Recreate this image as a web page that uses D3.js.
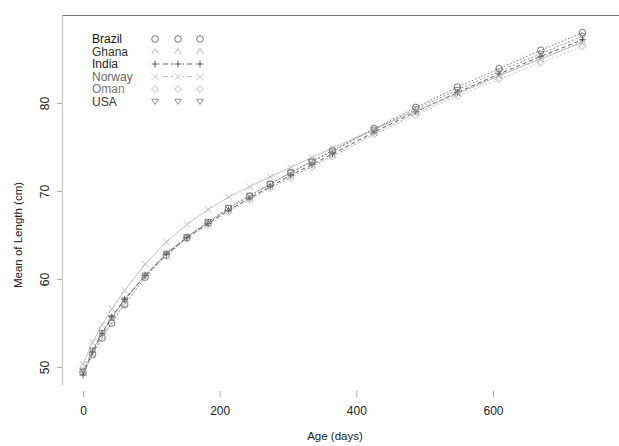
<!DOCTYPE html>
<html>
<head>
<meta charset="utf-8">
<script src="https://cdn.jsdelivr.net/npm/d3@7"></script>
<style>
  body { margin: 0; background: #fff; }
  svg text { font-family: "Liberation Sans", Arial, sans-serif; }
</style>
</head>
<body>
<svg id="chart" width="619" height="446"></svg>
<script>
// ages in days (birth, 2/4/6 weeks, then months 2..12, 14..24)
const ages = [0, 14, 28, 42, 61, 91, 122, 152, 183, 213, 244, 274, 304, 335, 365, 426, 487, 548, 609, 670, 731];

const countries = ["Brazil", "Ghana", "India", "Norway", "Oman", "USA"];

const brazil = [49.4, 51.4, 53.3, 55.0, 57.1, 60.2, 62.7, 64.7, 66.4, 68.0, 69.4, 70.8, 72.1, 73.4, 74.6, 77.1, 79.5, 81.8, 83.9, 86.0, 88.0];
const ghana  = [49.3, 51.8, 53.8, 55.6, 57.6, 60.5, 62.9, 64.8, 66.4, 67.8, 69.1, 70.4, 71.6, 72.8, 74.0, 76.5, 78.8, 81.0, 83.1, 85.1, 87.0];
const india  = [49.1, 51.7, 53.8, 55.7, 57.7, 60.4, 62.8, 64.7, 66.3, 67.8, 69.2, 70.5, 71.8, 73.0, 74.2, 76.7, 79.0, 81.2, 83.3, 85.3, 87.2];
const norway = [50.3, 52.8, 54.8, 56.6, 58.7, 61.7, 64.2, 66.2, 67.9, 69.3, 70.5, 71.6, 72.7, 73.8, 74.9, 77.0, 79.1, 81.1, 83.1, 85.0, 86.9];
const oman   = [49.3, 51.5, 53.4, 55.2, 57.2, 60.2, 62.6, 64.5, 66.1, 67.6, 69.0, 70.3, 71.5, 72.7, 73.9, 76.4, 78.6, 80.8, 82.7, 84.6, 86.4];
const usa    = [49.6, 51.9, 53.9, 55.6, 57.6, 60.4, 62.9, 64.8, 66.5, 68.1, 69.5, 70.8, 72.1, 73.3, 74.5, 77.0, 79.3, 81.5, 83.6, 85.6, 87.6];

const xTicks = [0, 200, 400, 600];
const yTicks = [50, 60, 70, 80];

const seriesValues = [brazil, ghana, india, norway, oman, usa];

// look of each country; legLine = whether the connecting line shows in the legend
const styles = [
  { sym: "circle",  color: "#555", text: "#111", dash: "1.5,2", legLine: false },
  { sym: "up",      color: "#aaa", text: "#333", dash: "2,2",   legLine: false },
  { sym: "plus",    color: "#333", text: "#222", dash: "4,3",   legLine: true },
  { sym: "cross",   color: "#b4b4b4", text: "#666", dash: null, legLine: true },
  { sym: "diamond", color: "#aaa", text: "#777", dash: "1.5,2.5", legLine: false },
  { sym: "down",    color: "#777", text: "#333", dash: "2,2",   legLine: false }
];

const svg = d3.select("#chart");

const x = d3.scaleLinear().domain([0, 600]).range([83, 493]);
const y = d3.scaleLinear().domain([50, 80]).range([367, 103]);

// frame: only top and left edges show
svg.append("line")
  .attr("x1", 62).attr("x2", 619).attr("y1", 15.5).attr("y2", 15.5)
  .attr("stroke", "#777").attr("stroke-width", 1.2);
svg.append("line")
  .attr("x1", 62.5).attr("x2", 62.5).attr("y1", 15).attr("y2", 385)
  .attr("stroke", "#c4c4c4").attr("stroke-width", 1.2);

// y axis
const yAxis = svg.append("g")
  .attr("transform", "translate(62,0)")
  .call(d3.axisLeft(y).tickValues(yTicks).tickSize(5).tickPadding(0));
yAxis.select(".domain").remove();
yAxis.selectAll(".tick line").attr("stroke", "#aaa");
yAxis.selectAll(".tick text")
  .attr("x", 0).attr("dy", 0)
  .attr("transform", "translate(-13,0) rotate(-90)")
  .attr("text-anchor", "middle")
  .attr("font-size", 12).attr("fill", "#222");

// x axis (ticks only)
const xAxis = svg.append("g")
  .attr("transform", "translate(0,391)")
  .call(d3.axisBottom(x).tickValues(xTicks).tickSize(6).tickPadding(9));
xAxis.select(".domain").remove();
xAxis.selectAll(".tick line").attr("stroke", "#aaa");
xAxis.selectAll(".tick text").attr("font-size", 12).attr("fill", "#222");

svg.append("text")
  .attr("x", 335).attr("y", 440)
  .attr("text-anchor", "middle").attr("font-size", 11.5).attr("fill", "#222")
  .text("Age (days)");

svg.append("text")
  .attr("transform", "translate(22,235) rotate(-90)")
  .attr("text-anchor", "middle").attr("font-size", 11.5).attr("fill", "#222")
  .text("Mean of Length (cm)");

// symbol drawing
function drawSymbol(g, sym, cx, cy, color) {
  const s = 3.3;
  let p = g.append("path").attr("fill", "none").attr("stroke", color).attr("stroke-width", 0.8);
  if (sym === "circle") {
    g.append("circle").attr("cx", cx).attr("cy", cy).attr("r", s)
      .attr("fill", "none").attr("stroke", color).attr("stroke-width", 0.8);
  } else if (sym === "up") {
    p.attr("d", `M${cx - s},${cy + s * 0.7} L${cx},${cy - s * 0.9} L${cx + s},${cy + s * 0.7}`);
  } else if (sym === "down") {
    p.attr("d", `M${cx - s},${cy - s * 0.7} L${cx + s},${cy - s * 0.7} L${cx},${cy + s * 0.9} Z`);
  } else if (sym === "plus") {
    p.attr("d", `M${cx - s},${cy} L${cx + s},${cy} M${cx},${cy - s} L${cx},${cy + s}`);
  } else if (sym === "cross") {
    p.attr("d", `M${cx - s},${cy - s} L${cx + s},${cy + s} M${cx - s},${cy + s} L${cx + s},${cy - s}`);
  } else if (sym === "diamond") {
    p.attr("d", `M${cx},${cy - s} L${cx + s},${cy} L${cx},${cy + s} L${cx - s},${cy} Z`);
  }
}

const line = d3.line()
  .x((d, i) => x(ages[i]))
  .y(d => y(d));

// draw each country: line then symbols
seriesValues.forEach((vals, k) => {
  const st = styles[k];
  const g = svg.append("g");
  g.append("path")
    .datum(vals)
    .attr("d", line)
    .attr("fill", "none")
    .attr("stroke", st.color)
    .attr("stroke-width", 0.8)
    .attr("stroke-dasharray", st.dash);
  vals.forEach((v, i) => drawSymbol(g, st.sym, x(ages[i]), y(v), st.color));
});

// legend
const legend = svg.append("g");
countries.forEach((name, k) => {
  const st = styles[k];
  const ly = 39 + k * 12.5;
  legend.append("text")
    .attr("x", 92).attr("y", ly + 4)
    .attr("font-size", 12).attr("fill", st.text)
    .text(name);
  if (st.legLine) {
    legend.append("line")
      .attr("x1", 155).attr("x2", 200).attr("y1", ly).attr("y2", ly)
      .attr("stroke", st.color).attr("stroke-width", 0.8)
      .attr("stroke-dasharray", "5,3");
  }
  [155, 178, 200].forEach(lx => {
    legend.append("rect")
      .attr("x", lx - 4.5).attr("y", ly - 4.5).attr("width", 9).attr("height", 9)
      .attr("fill", "#fff");
    drawSymbol(legend, st.sym, lx, ly, st.color);
  });
});
</script>
</body>
</html>
